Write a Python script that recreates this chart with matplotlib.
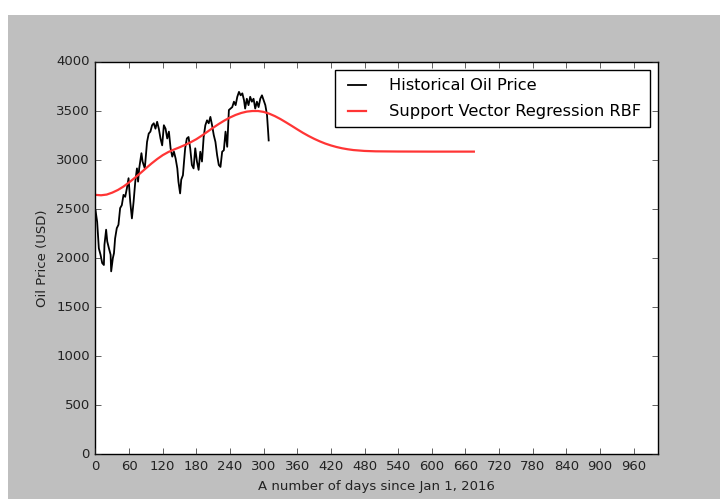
import matplotlib
matplotlib.use('Agg')
import matplotlib.pyplot as plt
from matplotlib.patches import Rectangle

# daily closing prices (sampled) since Jan 1, 2016
hist_days = [0, 3, 6, 9, 12, 15, 16, 19, 21, 24, 27, 28, 31, 33, 35, 38, 41, 44, 47,
             50, 53, 56, 59, 62, 65, 68, 71, 74, 76, 78, 82, 84, 88, 92, 95, 98, 101,
             104, 107, 110, 113, 116, 119, 122, 125, 128, 131, 134, 137, 140, 143, 146,
             148, 151, 153, 156, 158, 160, 163, 166, 169, 172, 175, 178, 181, 184, 187,
             190, 193, 196, 199, 202, 205, 208, 211, 214, 217, 220, 223, 226, 229, 232,
             235, 238, 241, 244, 247, 250, 253, 256, 259, 262, 265, 267, 270, 273, 276,
             279, 282, 285, 288, 291, 294, 297, 300, 303, 306, 308, 309]
hist_price = [2490, 2370, 2100, 2035, 1950, 1930, 2135, 2290, 2170, 2100, 2035, 1865,
              2000, 2050, 2200, 2305, 2340, 2510, 2540, 2645, 2625, 2710, 2815, 2575,
              2405, 2575, 2780, 2915, 2780, 2915, 3070, 2985, 2915, 3185, 3270, 3290,
              3355, 3375, 3320, 3390, 3320, 3220, 3150, 3355, 3320, 3220, 3290, 3120,
              3035, 3085, 3015, 2915, 2780, 2660, 2800, 2845, 2985, 3120, 3220, 3235,
              3120, 2950, 2915, 3120, 2985, 2900, 3085, 2985, 3235, 3355, 3405, 3375,
              3440, 3355, 3255, 3185, 3050, 2950, 2930, 3085, 3100, 3290, 3135, 3510,
              3525, 3540, 3595, 3560, 3645, 3695, 3660, 3680, 3610, 3525, 3625, 3560,
              3645, 3595, 3625, 3525, 3595, 3540, 3625, 3660, 3610, 3560, 3460, 3290,
              3200]

# SVR (RBF kernel) prediction
svr_days = [0, 10, 20, 30, 40, 50, 60, 70, 80, 90, 100, 110, 120, 130, 140, 150, 160,
            170, 180, 190, 200, 210, 220, 230, 240, 250, 260, 270, 280, 290, 300, 310,
            320, 330, 340, 350, 360, 370, 380, 390, 400, 410, 420, 430, 440, 450, 460,
            480, 500, 540, 600, 675]
svr_price = [2645, 2641, 2648, 2668, 2695, 2730, 2772, 2818, 2866, 2916, 2965, 3010,
             3050, 3082, 3107, 3130, 3155, 3182, 3213, 3250, 3290, 3330, 3368, 3403,
             3434, 3460, 3480, 3494, 3500, 3500, 3491, 3473, 3448, 3418, 3384, 3349,
             3313, 3278, 3246, 3217, 3191, 3168, 3149, 3133, 3120, 3110, 3102, 3093,
             3089, 3087, 3086, 3086]

x_ticks = list(range(0, 1000, 60))
y_ticks = list(range(0, 4001, 500))

plt.style.use('classic')
fig = plt.figure(figsize=(7.2, 4.99), dpi=100, facecolor='white')
fig.patches.append(Rectangle((8 / 720, 0), 1, 1 - 15 / 499, transform=fig.transFigure,
                             facecolor='#bfbfbf', edgecolor='none', zorder=-1))
ax = fig.add_axes([0.1326, 0.0896, 0.7809, 0.7862])

ax.plot(hist_days, hist_price, color='black', lw=1.3, label='Historical Oil Price')
ax.plot(svr_days, svr_price, color='#ff3535', lw=1.6, label='Support Vector Regression RBF')

ax.set_xlim(0, 1003)
ax.set_ylim(0, 4000)
ax.set_xticks(x_ticks)
ax.set_yticks(y_ticks)
ax.tick_params(labelsize=9.5, colors='#222222')
ax.set_xlabel('A number of days since Jan 1, 2016', fontsize=9.5, color='#222222')
ax.set_ylabel('Oil Price (USD)', fontsize=9.5, color='#222222')

leg = ax.legend(loc='upper right', fontsize=11.7, handlelength=1.7, labelspacing=0.68,
                borderpad=0.5, handletextpad=1.15, borderaxespad=0.5)
leg.get_frame().set_linewidth(1.0)

fig.savefig('out.png', dpi=100, facecolor='white')
